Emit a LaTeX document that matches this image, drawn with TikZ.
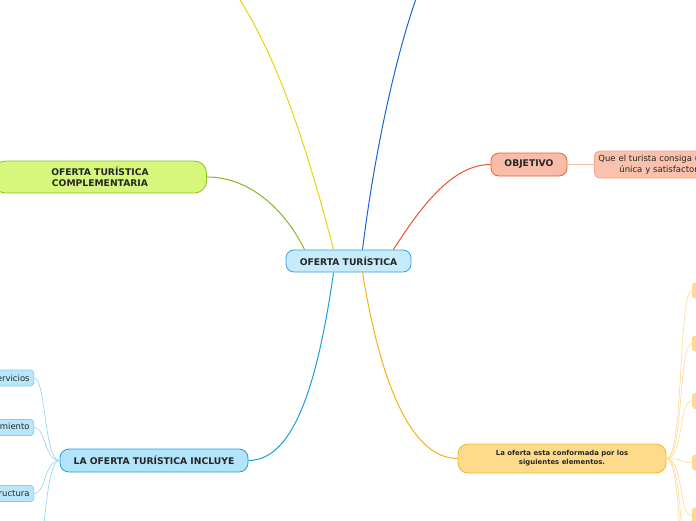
\documentclass[tikz,border=0pt]{standalone}
\usepackage{fontspec}
\setmainfont{DejaVu Sans}
\begin{document}
\begin{tikzpicture}[x=1pt,y=-1pt,
  box/.style={draw, line width=0.8pt, align=center, inner sep=0pt, font=\fontsize{9.2}{11}\selectfont\bfseries, text=black!85},
  central/.style={box, fill=cenF, draw=cenD, rounded corners=8pt, minimum width=125pt, minimum height=22pt},
  objbox/.style={box, fill=objF, draw=objD, rounded corners=8pt, minimum width=76pt, minimum height=23pt},
  quebox/.style={box, fill=queF, draw=queD, rounded corners=5pt, text width=180pt, minimum height=27pt, align=left, inner xsep=4pt, font=\fontsize{8.5}{10.5}\selectfont},
  compbox/.style={box, fill=comF, draw=comD, rounded corners=12pt, minimum width=213pt, minimum height=32pt},
  incbox/.style={box, fill=incF, draw=incD, rounded corners=9pt, minimum width=188pt, minimum height=23pt},
  elebox/.style={box, fill=eleF, draw=eleD, rounded corners=10pt, minimum width=208pt, minimum height=29pt, font=\fontsize{6.9}{9}\selectfont\bfseries},
  bchild/.style={draw=bchD, fill=bchF, line width=0.7pt, rounded corners=3pt, minimum height=16pt, inner xsep=4pt, inner ysep=0pt, font=\fontsize{8.5}{10}\selectfont, text=black!85, anchor=east},
  ochild/.style={draw=ochD, fill=eleF, line width=0.7pt, rounded corners=3pt, minimum height=15pt, minimum width=30pt, inner sep=0pt, anchor=west},
  link/.style={line width=1pt},
  thin/.style={line width=0.6pt}
]
\definecolor{cenF}{HTML}{C6EBFB}\definecolor{cenD}{HTML}{3A9FDC}
\definecolor{objF}{HTML}{F9BCA8}\definecolor{objD}{HTML}{E8622F}
\definecolor{queF}{HTML}{FAC1AD}\definecolor{queD}{HTML}{F4A88C}
\definecolor{comF}{HTML}{D6F77C}\definecolor{comD}{HTML}{8CC020}
\definecolor{incF}{HTML}{B2E4FA}\definecolor{incD}{HTML}{1D9FE0}
\definecolor{eleF}{HTML}{FDDB8B}\definecolor{eleD}{HTML}{F6B523}
\definecolor{bchF}{HTML}{B8E6FB}\definecolor{bchD}{HTML}{7FCFF3}
\definecolor{ochD}{HTML}{FBD47A}
\definecolor{lYel}{HTML}{EDD20A}\definecolor{lBlu}{HTML}{1E63D6}
\definecolor{lGrn}{HTML}{86B81B}\definecolor{lRed}{HTML}{E8532A}
\definecolor{lInc}{HTML}{1A9EE0}\definecolor{lOra}{HTML}{F7B20E}
\definecolor{lSal}{HTML}{F7BBA8}\definecolor{lOch}{HTML}{FCDA90}
\definecolor{lBch}{HTML}{8AD3F4}

\useasboundingbox (0,0) rectangle (696,520);
\clip (0,0) rectangle (696,520);

\coordinate (xb) at (46,0);
\coordinate (xo) at (678,0);

\node[central] (c) at (348.5,261) {OFERTA TURÍSTICA};
\node[objbox] (obj) at (529,164.5) {OBJETIVO};
\node[quebox, anchor=west] (que) at (594,164.5) {Que el turista consiga una experiencia\\ \hspace*{21pt}única y satisfactoria};
\node[compbox] (comp) at (100,177) {OFERTA TURÍSTICA\\ COMPLEMENTARIA};
\node[incbox] (inc) at (154,460.5) {LA OFERTA TURÍSTICA INCLUYE};
\node[elebox] (ele) at (562,458.5) {La oferta esta conformada por los\\ siguientes elementos.};

\coordinate (up1) at (232,-12);
\coordinate (up2) at (420,-12);

\node[bchild] (b1) at (34,378) {Servicios};
\node[bchild] (b2) at (34,427.5) {Alojamiento};
\node[bchild] (b3) at (34,493.5) {Infraestructura};
\coordinate (b4) at (34,560);

\node[ochild] (o1) at (692,290.5) {};
\node[ochild] (o2) at (692,343.5) {};
\node[ochild] (o3) at (692,401) {};
\node[ochild] (o4) at (692,462.5) {};
\node[ochild] (o5) at (692,515.5) {};
\coordinate (o6) at (692,570);
\coordinate (o7) at (692,625);

% main connectors
\draw[link, lYel] (c.north west) ++(48,0) .. controls (305,140) and (275,50) .. (up1);
\draw[link, lBlu] (c.north) ++(14,0) .. controls (376,140) and (400,40) .. (up2);
\draw[link, lGrn] (c.north west) ++(19,0) .. controls (285,210) and (250,177) .. (comp.east);
\draw[link, lRed] (c.north east) ++(-18,0) .. controls (425,200) and (455,164.5) .. (obj.west);
\draw[link, lInc] (c.south west) ++(48,0) .. controls (318,380) and (295,460.5) .. (inc.east);
\draw[link, lOra] (c.south) ++(14,0) .. controls (380,380) and (410,458.5) .. (ele.west);
\draw[thin, lSal] (obj.east) -- (que.west);

% blue children
\foreach \b in {b1,b2,b3,b4}
  \draw[thin, lBch] (inc.west) .. controls (44,460.5) and (\b -| xb) .. (\b);

% orange children
\foreach \o in {o1,o2,o3,o4,o5,o6,o7}
  \draw[thin, lOch] (ele.east) .. controls (684,458.5) and (\o -| xo) .. (\o);
\end{tikzpicture}
\end{document}
